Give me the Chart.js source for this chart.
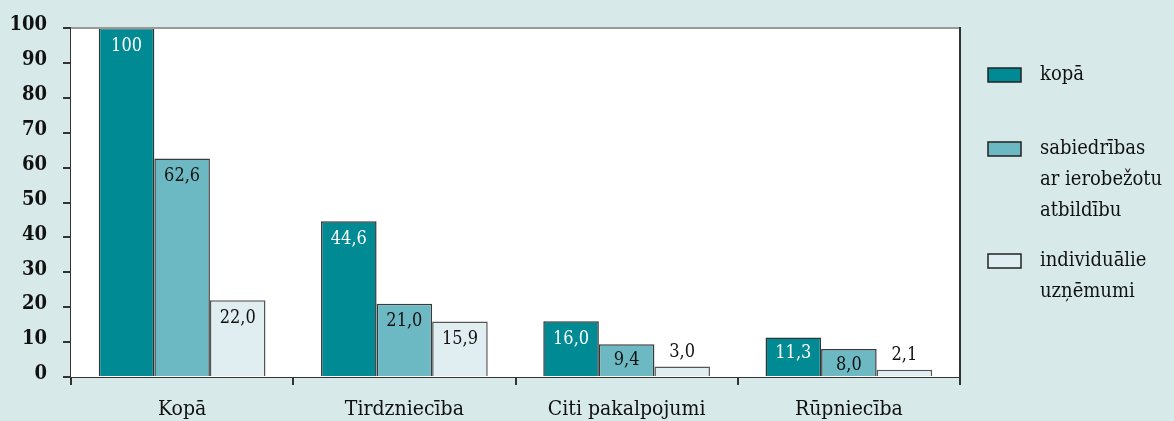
<!DOCTYPE html>
<html>
<head>
<meta charset="utf-8">
<script src="https://cdn.jsdelivr.net/npm/chart.js@4"></script>
<style>
  html, body { margin: 0; padding: 0; background: #d8e9e9; }
  #wrap { width: 1174px; height: 421px; position: relative; }
</style>
</head>
<body>
<div id="wrap"><canvas id="chart" width="1174" height="421"></canvas></div>
<script>
const categories = ['Kopā', 'Tirdzniecība', 'Citi pakalpojumi', 'Rūpniecība'];
const seriesNames = [['kopā'], ['sabiedrības', 'ar ierobežotu', 'atbildību'], ['individuālie', 'uzņēmumi']];
const totalValues = [100, 44.6, 16.0, 11.3];
const llcValues = [62.6, 21.0, 9.4, 8.0];
const individualValues = [22.0, 15.9, 3.0, 2.1];
const yTicks = [0, 10, 20, 30, 40, 50, 60, 70, 80, 90, 100];

const colors = ['#008a94', '#6db9c3', '#e0eef2'];
const borders = ['#333333', '#3a3a3a', '#555555'];
const labelColors = ['#ffffff', '#111111', '#111111'];
const FONT = "'DejaVu Serif Condensed', 'DejaVu Serif', serif";

function fmt(v) {
    return v === 100 ? '100' : v.toFixed(1).replace('.', ',');
}

// white plot area plus the top / right frame
const plotFrame = {
    id: 'plotFrame',
    beforeDatasetsDraw(chart) {
        const { ctx, chartArea: a } = chart;
        ctx.save();
        ctx.fillStyle = '#ffffff';
        ctx.fillRect(a.left, a.top, a.right - a.left, a.bottom - a.top);
        ctx.restore();
    },
    afterDraw(chart) {
        const { ctx, chartArea: a } = chart;
        ctx.save();
        ctx.strokeStyle = '#999999';
        ctx.lineWidth = 2;
        ctx.beginPath();
        ctx.moveTo(a.left, a.top);
        ctx.lineTo(a.right, a.top);
        ctx.stroke();
        ctx.strokeStyle = '#333333';
        ctx.beginPath();
        ctx.moveTo(a.right, a.top - 1);
        ctx.lineTo(a.right, a.bottom + 8);
        ctx.stroke();
        ctx.restore();
    }
};

// values drawn inside the bar top, or above it when the bar is short
const barValues = {
    id: 'barValues',
    afterDatasetsDraw(chart) {
        const { ctx } = chart;
        ctx.save();
        ctx.font = '18px ' + FONT;
        ctx.textAlign = 'center';
        ctx.textBaseline = 'middle';
        chart.data.datasets.forEach((ds, i) => {
            chart.getDatasetMeta(i).data.forEach((bar, j) => {
                const v = ds.data[j];
                const h = bar.base - bar.y;
                if (h < 20) {
                    ctx.fillStyle = '#111111';
                    ctx.fillText(fmt(v), bar.x, bar.y - 14);
                } else {
                    ctx.fillStyle = labelColors[i];
                    ctx.fillText(fmt(v), bar.x, bar.y + (h < 45 ? 16 : 18));
                }
            });
        });
        ctx.restore();
    }
};

// legend on the right with wrapped labels
const sideLegend = {
    id: 'sideLegend',
    afterDraw(chart) {
        const { ctx } = chart;
        const boxTops = [68, 142, 254];
        ctx.save();
        ctx.font = '20px ' + FONT;
        ctx.textBaseline = 'middle';
        seriesNames.forEach((lines, i) => {
            ctx.fillStyle = colors[i];
            ctx.fillRect(988, boxTops[i], 33, 14);
            ctx.strokeStyle = '#222222';
            ctx.lineWidth = 1.5;
            ctx.strokeRect(988, boxTops[i], 33, 14);
            ctx.fillStyle = '#111111';
            lines.forEach((t, k) => {
                ctx.fillText(t, 1040, boxTops[i] + 7 + k * 31);
            });
        });
        ctx.restore();
    }
};

new Chart(document.getElementById('chart'), {
    type: 'bar',
    data: {
        labels: categories,
        datasets: [totalValues, llcValues, individualValues].map((d, i) => ({
            label: seriesNames[i].join(' '),
            data: d,
            backgroundColor: colors[i],
            borderColor: borders[i],
            borderWidth: 1.5,
            borderSkipped: 'bottom',
            categoryPercentage: 0.75,
            barPercentage: 1.0
        }))
    },
    options: {
        responsive: false,
        animation: false,
        layout: { padding: { top: 28, right: 214, bottom: 0, left: 0 } },
        plugins: {
            legend: { display: false },
            tooltip: { enabled: false }
        },
        scales: {
            x: {
                afterFit: s => { s.height = 44; },
                grid: { display: true, drawOnChartArea: false, tickLength: 8, color: '#333333', lineWidth: 2, offset: true },
                border: { display: true, color: '#333333', width: 2 },
                ticks: { color: '#111111', font: { family: FONT, size: 21 }, padding: 12 }
            },
            y: {
                min: 0,
                max: 100,
                afterFit: s => { s.width = 71; },
                afterBuildTicks: s => { s.ticks = yTicks.map(v => ({ value: v })); },
                grid: { display: true, drawOnChartArea: false, tickLength: 8, color: '#333333', lineWidth: 2 },
                border: { display: true, color: '#333333', width: 2 },
                ticks: { color: '#111111', font: { family: FONT, size: 20, weight: 'bold' }, padding: 16, labelOffset: -3 }
            }
        }
    },
    plugins: [plotFrame, barValues, sideLegend]
});
</script>
</body>
</html>
